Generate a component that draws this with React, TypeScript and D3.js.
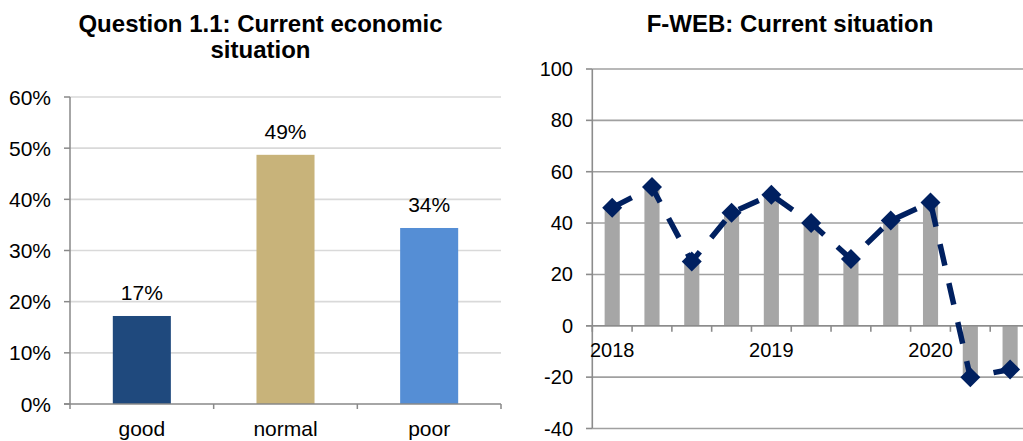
import React from "react";
import * as d3 from "d3";

// ---- Left chart data ----
const categories = ["good", "normal", "poor"];
const shares = [0.172, 0.487, 0.344];
const shareLabels = ["17%", "49%", "34%"];
const barColors = ["#1F497D", "#C8B37A", "#558ED5"];
const leftTicks = [0, 0.1, 0.2, 0.3, 0.4, 0.5, 0.6];
const leftTickLabels = ["0%", "10%", "20%", "30%", "40%", "50%", "60%"];

// ---- Right chart data ----
const quarters = [
  "2018Q1", "2018Q2", "2018Q3", "2018Q4",
  "2019Q1", "2019Q2", "2019Q3", "2019Q4",
  "2020Q1", "2020Q2", "2020Q3",
];
const barValues = [46, 54, 25, 44, 51, 40, 26, 41, 48, -20, -17];
const lineValues = [46, 54, 25, 44, 51, 40, 26, 41, 48, -20, -17];
const rightTicks = [-40, -20, 0, 20, 40, 60, 80, 100];
const yearLabels: Record<string, string> = { "2018Q1": "2018", "2019Q1": "2019", "2020Q1": "2020" };

const FONT = "'Liberation Sans', Arial, sans-serif";

export default function App() {
  // Left scales
  const yL = d3.scaleLinear().domain([0, 0.6]).range([404, 97]);
  const xL = d3.scaleBand<string>().domain(categories).range([70, 501]).paddingInner(0.596).paddingOuter(0.298);
  const stepL = xL.step();
  const leftBoundaries = d3.range(categories.length + 1).map((i) => 70 + i * stepL);

  // Right scales
  const yR = d3.scaleLinear().domain([-40, 100]).range([428.5, 69]);
  const xR = d3.scaleBand<string>().domain(quarters).range([592.3, 1030]).paddingInner(0.62).paddingOuter(0.31);
  const stepR = xR.step();
  const rightBoundaries = d3.range(quarters.length + 1).map((i) => 592.3 + i * stepR);
  const z0 = yR(0);

  const line = d3
    .line<number>()
    .x((_, i) => (xR(quarters[i]) as number) + xR.bandwidth() / 2)
    .y((d) => yR(d));
  const diamond = d3.symbol().type(d3.symbolSquare).size(200)() as string;

  return (
    <svg width={1023} height={441} style={{ position: "absolute", left: 0, top: 0 }} fontFamily={FONT}>
      <rect x={0} y={0} width={1023} height={441} fill="#fff" />
      {/* ---------- Left chart ---------- */}
      <text x={260.5} y={31.5} textAnchor="middle" fontSize={24} fontWeight="bold" fill="#000">
        Question 1.1: Current economic
      </text>
      <text x={260.5} y={58} textAnchor="middle" fontSize={24} fontWeight="bold" fill="#000">
        situation
      </text>
      {leftTicks.slice(1).map((t) => (
        <line key={"lg" + t} x1={70} x2={501} y1={yL(t)} y2={yL(t)} stroke="#D9D9D9" strokeWidth={1.6} />
      ))}
      {categories.map((c, i) => (
        <rect key={c} x={xL(c)} y={yL(shares[i])} width={xL.bandwidth()} height={yL(0) - yL(shares[i])} fill={barColors[i]} />
      ))}
      <line x1={70} x2={70} y1={yL(0.6)} y2={yL(0)} stroke="#898989" strokeWidth={1.5} />
      <line x1={64} x2={501} y1={yL(0)} y2={yL(0)} stroke="#898989" strokeWidth={1.5} />
      {leftTicks.map((t) => (
        <line key={"lt" + t} x1={64} x2={70} y1={yL(t)} y2={yL(t)} stroke="#898989" strokeWidth={1.5} />
      ))}
      {leftBoundaries.map((b, i) => (
        <line key={"lb" + i} x1={b} x2={b} y1={yL(0)} y2={yL(0) + 5} stroke="#898989" strokeWidth={1.5} />
      ))}
      {leftTicks.map((t, i) => (
        <text key={"ll" + t} x={51} y={yL(t) + 7.5} textAnchor="end" fontSize={21} fill="#000">
          {leftTickLabels[i]}
        </text>
      ))}
      {categories.map((c) => (
        <text key={"cl" + c} x={(xL(c) as number) + xL.bandwidth() / 2} y={436} textAnchor="middle" fontSize={21} fill="#000">
          {c}
        </text>
      ))}
      {categories.map((c, i) => (
        <text key={"vl" + c} x={(xL(c) as number) + xL.bandwidth() / 2} y={yL(shares[i]) - 16} textAnchor="middle" fontSize={21} fill="#000">
          {shareLabels[i]}
        </text>
      ))}

      {/* ---------- Right chart ---------- */}
      <text x={790} y={31.5} textAnchor="middle" fontSize={24} fontWeight="bold" fill="#000">
        F-WEB: Current situation
      </text>
      {rightTicks.map((t) => (
        <line key={"rg" + t} x1={592.3} x2={1030} y1={yR(t)} y2={yR(t)} stroke="#A0A0A0" strokeWidth={1.6} />
      ))}
      {quarters.map((q, i) => (
        <rect
          key={"rb" + q}
          x={xR(q)}
          y={Math.min(yR(barValues[i]), z0)}
          width={xR.bandwidth()}
          height={Math.abs(yR(barValues[i]) - z0)}
          fill="#A6A6A6"
        />
      ))}
      <line x1={592.3} x2={592.3} y1={yR(100)} y2={yR(-40)} stroke="#8C8C8C" strokeWidth={1.6} />
      {rightTicks.map((t) => (
        <line key={"rt" + t} x1={586} x2={592.3} y1={yR(t)} y2={yR(t)} stroke="#8C8C8C" strokeWidth={1.6} />
      ))}
      <line x1={586} x2={1030} y1={z0} y2={z0} stroke="#8C8C8C" strokeWidth={1.6} />
      {rightBoundaries.map((b, i) => (
        <line key={"rbd" + i} x1={b} x2={b} y1={z0} y2={z0 + 6} stroke="#8C8C8C" strokeWidth={1.6} />
      ))}
      {rightTicks.map((t) => (
        <text key={"rl" + t} x={573} y={yR(t) + 7} textAnchor="end" fontSize={20} fill="#000">
          {t}
        </text>
      ))}
      {quarters.map((q) =>
        yearLabels[q] ? (
          <text key={"yl" + q} x={(xR(q) as number) + xR.bandwidth() / 2} y={z0 + 31} textAnchor="middle" fontSize={20} fill="#000">
            {yearLabels[q]}
          </text>
        ) : null
      )}
      <path d={line(lineValues) as string} fill="none" stroke="#002060" strokeWidth={5.5} strokeDasharray="22 18" />
      {quarters.map((q, i) => (
        <path
          key={"dm" + q}
          d={diamond}
          transform={`translate(${(xR(q) as number) + xR.bandwidth() / 2},${yR(lineValues[i])}) rotate(45)`}
          fill="#002060"
        />
      ))}
    </svg>
  );
}
